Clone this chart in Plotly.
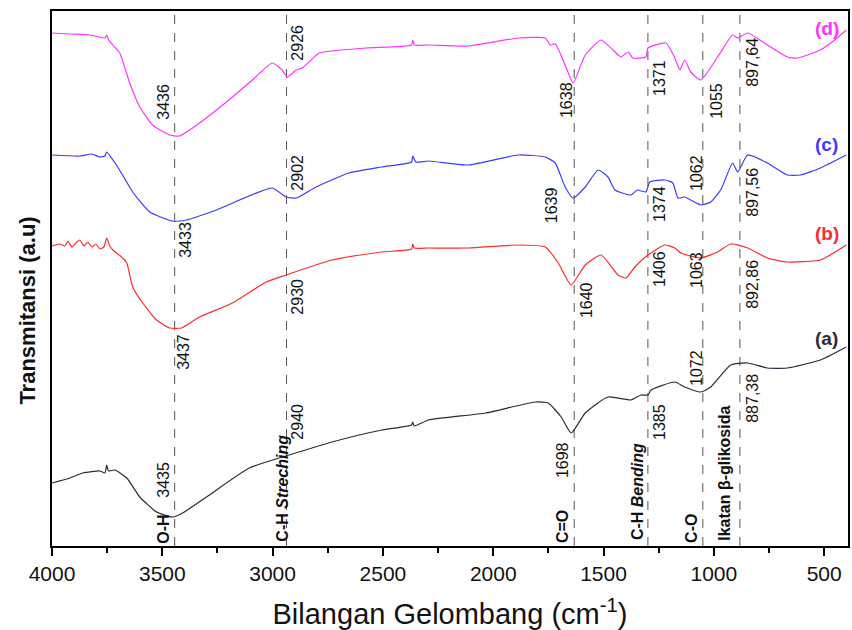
import plotly.graph_objects as go

# ---------------- data (wavenumber cm-1, transmittance a.u.) ----------------
wn_d = [4000, 3919, 3828, 3760, 3752, 3744, 3693, 3648, 3602, 3544, 3467, 3422, 3331, 3182, 3092, 3002,
        2957, 2934, 2893, 2866, 2835, 2789, 2577, 2370, 2365, 2358, 2293, 2112, 1886, 1764, 1742, 1719,
        1674, 1638, 1583, 1511, 1457, 1421, 1389, 1367, 1308, 1299, 1217, 1177, 1154, 1132, 1105, 1059,
        983, 915, 892, 847, 757, 667, 621, 517, 441, 400]
tr_d = [513, 512, 511, 508, 511, 506, 493, 463, 439, 421, 411, 410, 423, 449, 466, 483,
        476, 469, 476, 478, 484, 493, 498, 501, 506, 501, 501, 500, 508, 508, 501, 502,
        481, 463, 491, 506, 496, 489, 494, 488, 489, 498, 503, 488, 476, 486, 474, 466,
        489, 511, 508, 513, 501, 489, 488, 496, 508, 516]

wn_c = [4000, 3874, 3820, 3783, 3760, 3752, 3724, 3702, 3634, 3557, 3453, 3390, 3255, 3002, 2939, 2893,
        2803, 2654, 2505, 2370, 2365, 2351, 2293, 2112, 1886, 1764, 1719, 1674, 1638, 1583, 1525, 1480,
        1448, 1376, 1347, 1308, 1290, 1222, 1186, 1163, 1132, 1105, 1059, 1014, 969, 915, 892, 847,
        757, 667, 608, 517, 400]
tr_c = [391, 390, 392, 389, 390, 394, 386, 379, 354, 334, 325, 326, 336, 358, 349, 348,
        359, 373, 379, 384, 390, 384, 385, 381, 391, 389, 383, 359, 348, 359, 376, 369,
        356, 351, 356, 354, 364, 366, 363, 348, 349, 346, 341, 344, 356, 383, 374, 391,
        383, 371, 371, 378, 391]

wn_b = [4000, 3964, 3941, 3928, 3910, 3892, 3874, 3855, 3837, 3819, 3801, 3783, 3765, 3752, 3738, 3724,
        3679, 3661, 3634, 3589, 3526, 3467, 3413, 3331, 3182, 3029, 2939, 2731, 2505, 2370, 2365, 2358,
        2293, 2112, 1886, 1764, 1705, 1647, 1583, 1511, 1434, 1398, 1358, 1299, 1222, 1177, 1150, 1059,
        983, 924, 847, 757, 667, 517, 400]
tr_b = [300, 302, 300, 305, 299, 303, 306, 300, 304, 299, 302, 297, 299, 308, 300, 296,
        288, 283, 259, 243, 226, 218, 218, 229, 243, 264, 271, 286, 294, 297, 302, 298,
        298, 298, 301, 299, 283, 261, 281, 291, 271, 268, 279, 291, 301, 298, 293, 288,
        294, 302, 298, 288, 284, 286, 301]

wn_a = [4000, 3919, 3860, 3783, 3760, 3752, 3744, 3715, 3661, 3602, 3526, 3453, 3408, 3300, 3106, 2925,
        2731, 2505, 2370, 2365, 2358, 2293, 2035, 1809, 1751, 1692, 1647, 1583, 1480, 1376, 1330, 1299,
        1285, 1177, 1132, 1059, 1014, 924, 847, 757, 667, 517, 400]
tr_a = [63, 68, 73, 75, 73, 81, 75, 76, 68, 49, 34, 29, 33, 49, 78, 91,
        104, 116, 121, 124, 120, 126, 133, 144, 143, 129, 113, 133, 149, 146, 151, 151,
        156, 164, 159, 154, 159, 181, 183, 178, 178, 186, 199]

series_names = ["(a)", "(b)", "(c)", "(d)"]
series_colors = ["#2a2a3a", "#ff2a2a", "#3a3aff", "#ff33ff"]

x_ticks = [4000, 3500, 3000, 2500, 2000, 1500, 1000, 500]
band_lines = [3444, 2937, 1633, 1299, 1050, 882]

# peak labels: (text, x, y)
peak_labels = [
    ("3436", 3498, 444), ("2926", 2891, 503), ("1638", 1670, 446), ("1371", 1249, 468),
    ("1055", 991, 445), ("897,64", 828, 484),
    ("3433", 3398, 306), ("2902", 2891, 373), ("1639", 1737, 341), ("1374", 1249, 342),
    ("1062", 1081, 373), ("897,56", 828, 354),
    ("3437", 3407, 194), ("2930", 2891, 249), ("1640", 1579, 246), ("1406", 1249, 277),
    ("1063", 1081, 276), ("892,86", 828, 262),
    ("3435", 3498, 66), ("2940", 2891, 124), ("1698", 1688, 86), ("1385", 1249, 124),
    ("1072", 1081, 178), ("887,38", 828, 148),
]
group_labels = [
    ("O-H", 3498, 17), ("C-H <i>Streching</i>", 2959, 58), ("C=O", 1688, 19),
    ("C-H <i>Bending</i>", 1348, 54), ("C-O", 1104, 18), ("Ikatan β-glikosida", 955, 73),
]
series_label_pos = [(489, 208), (489, 313), (489, 402), (489, 518)]

FONT = "Liberation Sans, Arial"

# ---------------- figure ----------------
fig = go.Figure()
for wn, tr, col in [(wn_a, tr_a, series_colors[0]), (wn_b, tr_b, series_colors[1]),
                    (wn_c, tr_c, series_colors[2]), (wn_d, tr_d, series_colors[3])]:
    fig.add_trace(go.Scatter(x=wn, y=tr, mode="lines",
                             line=dict(color=col, width=1.2, shape="spline", smoothing=0.5),
                             showlegend=False, hoverinfo="skip"))

for xv in band_lines:
    fig.add_shape(type="line", xref="x", yref="paper", x0=xv, x1=xv, y0=0, y1=1,
                  line=dict(color="#555555", width=1, dash="dash"), layer="below")

for txt, xv, yv in peak_labels:
    fig.add_annotation(x=xv, y=yv, text=txt, textangle=-90, showarrow=False,
                       font=dict(family=FONT, size=16, color="#111111"))
for txt, xv, yv in group_labels:
    fig.add_annotation(x=xv, y=yv, text="<b>" + txt + "</b>", textangle=-90, showarrow=False,
                       font=dict(family=FONT, size=16, color="#111111"))
for name, col, (xv, yv) in zip(series_names, series_colors, series_label_pos):
    fig.add_annotation(x=xv, y=yv, text="<b>" + name + "</b>", showarrow=False,
                       font=dict(family=FONT, size=19, color=col))

# y-axis title as annotation (placed slightly below the plot centre like the reference)
fig.add_annotation(xref="paper", yref="paper", x=0, y=0.44, xanchor="center", yanchor="middle",
                   xshift=-24, text="<b>Transmitansi (a.u)</b>", textangle=-90, showarrow=False,
                   font=dict(family=FONT, size=22, color="#111111"))

fig.update_layout(
    width=852, height=630,
    margin=dict(l=52, r=2, t=11, b=84),
    paper_bgcolor="white", plot_bgcolor="white",
    xaxis=dict(range=[4000, 392], tickvals=x_ticks, ticks="outside", ticklen=8, tickwidth=2,
               tickcolor="black", showgrid=False, zeroline=False, showline=True, linewidth=2,
               linecolor="black", mirror=True,
               tickfont=dict(family=FONT, size=21, color="#111111"),
               minor=dict(dtick=500, tick0=250, ticks="outside", ticklen=5, tickwidth=1.5,
                          tickcolor="black", showgrid=False),
               title=dict(text="Bilangan Gelombang (cm<sup>-1</sup>)", standoff=20,
                          font=dict(family=FONT, size=29, color="#111111"))),
    yaxis=dict(range=[0, 535], showticklabels=False, ticks="", showgrid=False, zeroline=False,
               showline=True, linewidth=2, linecolor="black", mirror=True),
)

fig.write_html("out.html")
